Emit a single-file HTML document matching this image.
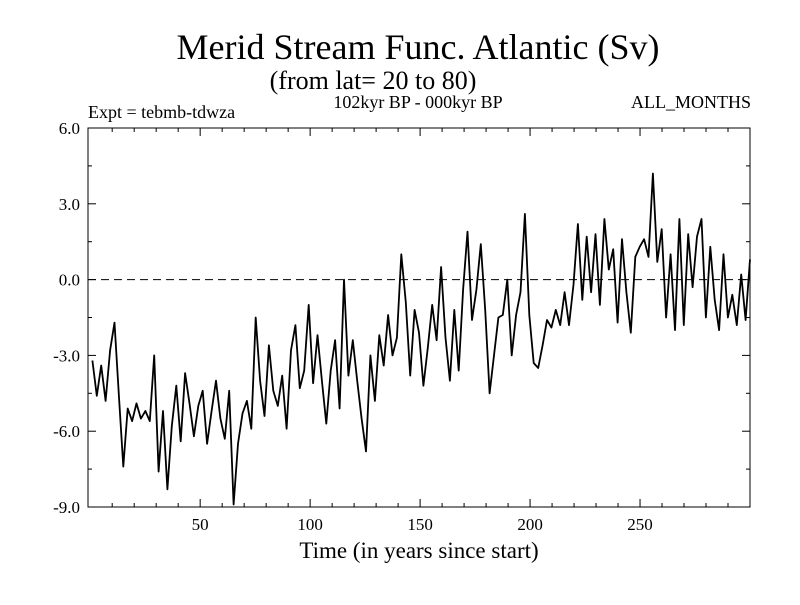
<!DOCTYPE html>
<html><head><meta charset="utf-8"><style>
body{margin:0;background:#fff;font-family:"Liberation Serif",serif}
svg text{font-family:"Liberation Serif",serif;fill:#000}
</style></head><body>
<svg width="800" height="600" id="c">
<text x="418" y="59" font-size="36" text-anchor="middle">Merid Stream Func. Atlantic (Sv)</text>
<text x="373" y="89" font-size="26" text-anchor="middle">(from lat= 20 to 80)</text>
<text x="88" y="118" font-size="18">Expt = tebmb-tdwza</text>
<text x="418" y="108" font-size="18" text-anchor="middle">102kyr BP - 000kyr BP</text>
<text x="751" y="108" font-size="18" text-anchor="end">ALL_MONTHS</text>
<text x="419" y="558" font-size="23" text-anchor="middle">Time (in years since start)</text>
<g id="axes"></g>
<path id="line" fill="none" stroke="#000" stroke-width="1.8" stroke-linejoin="round"/>
</svg>
<script>
const yTicks=[-9,-6,-3,0,3,6];
const yTickLabels=["-9.0","-6.0","-3.0","0.0","3.0","6.0"];
const xTicks=[50,100,150,200,250];
const xTickLabels=["50","100","150","200","250"];
const values=[
-3.2,-4.6,-3.4,-4.8,-2.8,-1.7,-4.6,-7.4,-5.1,-5.6,
-4.9,-5.5,-5.2,-5.6,-3.0,-7.6,-5.2,-8.3,-5.8,-4.2,
-6.4,-3.7,-4.9,-6.2,-5.0,-4.4,-6.5,-5.2,-4.0,-5.5,
-6.3,-4.4,-8.9,-6.5,-5.3,-4.8,-5.9,-1.5,-4.0,-5.4,
-2.6,-4.4,-5.0,-3.8,-5.9,-2.8,-1.8,-4.3,-3.6,-1.0,
-4.1,-2.2,-4.0,-5.7,-3.6,-2.4,-5.1,0.0,-3.8,-2.4,
-4.0,-5.5,-6.8,-3.0,-4.8,-2.2,-3.4,-1.4,-3.0,-2.3,
1.0,-0.9,-3.8,-1.2,-2.1,-4.2,-2.7,-1.0,-2.4,0.5,
-2.3,-4.0,-1.2,-3.6,-0.4,1.9,-1.6,-0.4,1.4,-1.2,
-4.5,-3.0,-1.5,-1.4,0.0,-3.0,-1.4,-0.5,2.6,-1.4,
-3.3,-3.5,-2.6,-1.6,-1.9,-1.2,-1.8,-0.5,-1.8,-0.2,
2.2,-0.8,1.7,-0.5,1.8,-1.0,2.4,0.4,1.2,-1.7,
1.6,-0.5,-2.1,0.9,1.3,1.6,0.9,4.2,0.7,2.0,
-1.5,1.0,-2.0,2.4,-1.8,1.8,-0.3,1.7,2.4,-1.5,
1.3,-0.8,-2.0,1.0,-1.5,-0.6,-1.8,0.2,-1.6,0.8];
const N=300;
const L=88,R=750,T=128,B=507;
const xs=v=>L+(v+1)/(301)*(R-L);
const ys=v=>T+(6-v)/15*(B-T);
const ax=document.getElementById('axes');
const NS='http://www.w3.org/2000/svg';
function mk(t,a){const e=document.createElementNS(NS,t);for(const k in a)e.setAttribute(k,a[k]);ax.appendChild(e);return e;}
const fr=mk('rect',{x:L,y:T,width:R-L,height:B-T,fill:'none',stroke:'#000','stroke-width':1});


const z=mk('line',{x1:L,x2:R,y1:ys(0),y2:ys(0),stroke:'#000','stroke-dasharray':'8,5'});


yTicks.forEach((v,i)=>{
 mk('line',{x1:L,x2:L+8,y1:ys(v),y2:ys(v),stroke:'#000'});
 mk('line',{x1:R,x2:R-8,y1:ys(v),y2:ys(v),stroke:'#000'});
 if(i<yTicks.length-1){mk('line',{x1:L,x2:L+4,y1:ys(v+1.5),y2:ys(v+1.5),stroke:'#000'});mk('line',{x1:R,x2:R-4,y1:ys(v+1.5),y2:ys(v+1.5),stroke:'#000'});}
 const t=mk('text',{x:L-8,y:ys(v)+6,'font-size':17,'text-anchor':'end'});t.textContent=yTickLabels[i];
 
 
});
for(let v=10;v<=300;v+=10){const big=v%50==0;mk('line',{x1:xs(v),x2:xs(v),y1:B,y2:B-(big?8:4),stroke:'#000'});mk('line',{x1:xs(v),x2:xs(v),y1:T,y2:T+(big?8:4),stroke:'#000'});}
xTicks.forEach((v,i)=>{const t=mk('text',{x:xs(v),y:B+23,'font-size':17,'text-anchor':'middle'});t.textContent=xTickLabels[i];
 
 });
const step=(N-1)/(values.length-1);
document.getElementById('line').setAttribute('d',values.map((v,i)=>(i?'L':'M')+xs(1+i*step).toFixed(1)+','+ys(v).toFixed(1)).join(''));
</script>
</body></html>
